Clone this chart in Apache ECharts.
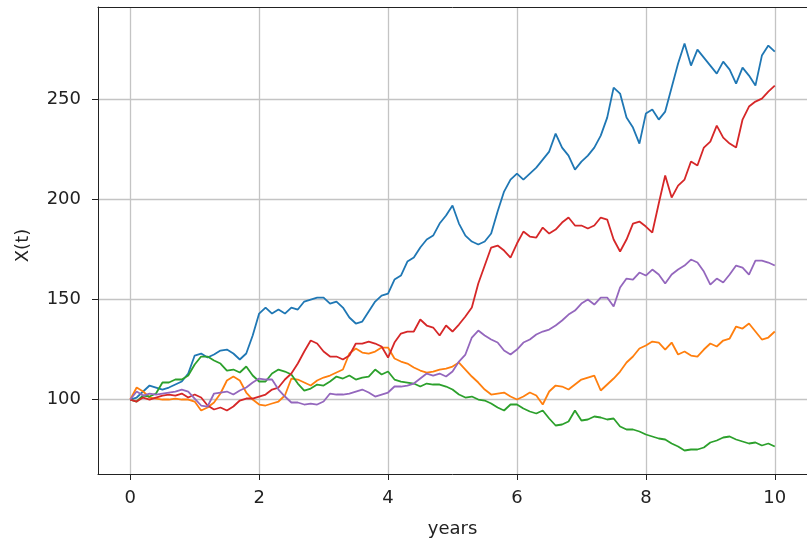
<!DOCTYPE html>
<html>
<head>
<meta charset="utf-8">
<title>X(t) paths</title>
<script src="https://cdn.jsdelivr.net/npm/echarts@6/dist/echarts.min.js"></script>
<style>
  html, body { margin: 0; padding: 0; background: #ffffff; }
  #chart { width: 807px; height: 545px; }
</style>
</head>
<body>
<div id="chart"></div>
<script>
// Sample times in years (step 0.1 from 0 to 10)
const years = Array.from({ length: 101 }, (_, i) => +(i * 0.1).toFixed(1));

// Five simulated price paths X(t), one value per sample time
const pathBlue = [
  100, 101, 104, 107, 106, 105, 106, 107.5, 109, 113,
  122, 123, 121, 122.5, 124.5, 125, 123, 120, 123, 132,
  143, 146, 143, 145, 143, 146, 145, 149, 150, 151,
  151, 148, 149, 146, 141, 138, 139, 144, 149, 152,
  153, 160, 162, 169, 171, 176, 180, 182, 188, 192,
  197, 188, 182, 179, 177.5, 179, 183, 194, 204, 210,
  213, 210, 213, 216, 220, 224, 233, 226, 222, 215,
  219, 222, 226, 232, 241, 256, 253, 241, 236, 228,
  243, 245, 240, 244, 256, 268, 278, 267, 275, 271,
  267, 263, 269, 265, 258, 266, 262, 257, 272, 277,
  274
];
const pathOrange = [
  100, 106, 104, 101, 100.5, 100, 100, 100.5, 100, 100,
  99, 94.5, 96, 98.5, 103, 109.5, 111.5, 109.5, 103.5, 100,
  97.5, 97, 98, 99, 102, 110.5, 110, 108.5, 107, 109.5,
  111, 112, 113.5, 115, 123, 125.5, 123.5, 123, 124, 126,
  126, 120.5, 119, 118, 116, 114.5, 113.5, 114, 115, 115.5,
  116.5, 118.5, 115, 111.5, 108.5, 105, 102.5, 103, 103.5, 101.5,
  100, 101.5, 103.5, 102, 97.5, 104, 107, 106.5, 105, 107.5,
  110, 111, 112, 104.5, 107.5, 110.5, 114, 118.5, 121.5, 125.5,
  127, 129, 128.5, 125, 128.5, 122.5, 124, 122, 121.5, 125,
  128, 126.5, 129.5, 130.5, 136.5, 135.5, 138, 134, 130, 131,
  134
];
const pathGreen = [
  100, 99, 102, 101.5, 103, 108.5, 108.5, 110, 110, 112,
  117.5, 121.5, 121.5, 119.5, 118, 114.5, 115, 113.5, 116.5, 112,
  109, 109, 113, 115, 114, 112.5, 108, 104.5, 105.5, 107.5,
  107, 109, 111.5, 110.5, 112, 110, 111, 111.5, 115, 112.5,
  114, 110, 109, 108.5, 108, 106.5, 108, 107.5, 107.5, 106.5,
  105, 102.5, 101, 101.5, 100, 99.5, 98, 96, 94.5, 97.5,
  97.5, 95.5, 94, 93, 94.5, 90.5, 87, 87.5, 89, 94.5,
  89.5, 90, 91.5, 91, 90, 90.5, 86.5, 85, 85, 84,
  82.5, 81.5, 80.5, 80, 78, 76.5, 74.5, 75, 75, 76,
  78.5, 79.5, 81, 81.5, 80, 79, 78, 78.5, 77, 78,
  76.5
];
const pathRed = [
  100, 99, 101, 100, 101, 102, 102.5, 102, 103, 101,
  102.5, 101, 97, 95, 96, 94.5, 96.5, 99.5, 100.5, 100.5,
  101.5, 102.5, 105, 106, 110, 113, 118, 124, 129.5, 128,
  124, 121.5, 121.5, 120, 122, 128, 128, 129, 128, 126.5,
  121, 128.5, 133, 134, 134, 140, 137, 136, 132, 137,
  134, 137.5, 141.5, 146, 158, 167, 176, 177, 174.5, 171,
  178, 184, 181.5, 181, 186, 183, 185, 188.5, 191, 187,
  187, 185.5, 187, 191, 190, 180, 174, 180, 188, 189,
  186.5, 183.5, 198, 212, 201, 207, 210, 219, 217, 226,
  229, 237, 231, 228, 226, 240, 246.5, 249, 250.5, 254,
  257
];
const pathPurple = [
  100, 104, 102, 103, 102.5, 103, 103.5, 104, 105, 104,
  100.5, 97, 96.5, 103, 103.5, 104, 102.5, 104.5, 106, 108.5,
  110.5, 110, 110, 105, 101.5, 98.5, 98.5, 97.5, 98, 97.5,
  99, 103, 102.5, 102.5, 103, 104, 105, 103.5, 101.5, 102.5,
  103.5, 106.5, 106.5, 107, 108, 110.5, 113, 112, 113, 111.5,
  114, 119, 122.5, 131, 134.5, 132, 130, 128.5, 124.5, 122.5,
  125, 128.5, 130, 132.5, 134, 135, 137, 139.5, 142.5, 144.5,
  148, 150, 147.5, 151, 151, 146.5, 156, 160.5, 160, 163.5,
  162, 165, 162.5, 158, 162.5, 165, 167, 170, 168.5, 164,
  157.5, 160.5, 158.5, 162.5, 167, 166, 162.5, 169.5, 169.5, 168.5,
  167
];

const xTickValues = [0, 2, 4, 6, 8, 10];
const yTickValues = [100, 150, 200, 250];

const paths = [
  { values: pathBlue, color: '#1f77b4' },
  { values: pathOrange, color: '#ff7f0e' },
  { values: pathGreen, color: '#2ca02c' },
  { values: pathRed, color: '#d62728' },
  { values: pathPurple, color: '#9467bd' }
];

const FONT = 'DejaVu Sans';
const INK = '#222222';
const GRID_LINE = { color: '#c4c4c4', width: 1.3 };

const chart = echarts.init(document.getElementById('chart'), null, { renderer: 'canvas' });

chart.setOption({
  animation: false,
  backgroundColor: '#ffffff',
  grid: { left: 98, top: 7, width: 720.75, height: 467, containLabel: false },
  xAxis: [
    {
      type: 'value',
      min: -0.5,
      max: 10.5,
      name: 'years',
      nameLocation: 'middle',
      nameGap: 46,
      nameTextStyle: { fontFamily: FONT, fontSize: 18, color: INK },
      axisLine: { show: true, onZero: false, lineStyle: { color: INK, width: 1 } },
      axisTick: { show: true, inside: false, length: 6, customValues: xTickValues, lineStyle: { color: INK, width: 1 } },
      axisLabel: { show: true, customValues: xTickValues, margin: 15, fontFamily: FONT, fontSize: 18, color: INK },
      splitLine: { show: true, showMinLine: true, showMaxLine: true, lineStyle: GRID_LINE }
    },
    {
      type: 'value',
      position: 'top',
      min: -0.5,
      max: 10.5,
      axisLine: { show: true, onZero: false, lineStyle: { color: INK, width: 1 } },
      axisTick: { show: false },
      axisLabel: { show: false },
      splitLine: { show: false }
    }
  ],
  yAxis: {
    type: 'value',
    min: 62.75,
    max: 296.3,
    name: 'X(t)',
    nameLocation: 'middle',
    nameGap: 66,
    nameTextStyle: { fontFamily: FONT, fontSize: 18, color: INK, padding: [0, 10, 0, 0] },
    axisLine: { show: true, onZero: false, lineStyle: { color: INK, width: 1 } },
    axisTick: { show: true, inside: false, length: 6, customValues: yTickValues, lineStyle: { color: INK, width: 1 } },
    axisLabel: { show: true, customValues: yTickValues, margin: 17, fontFamily: FONT, fontSize: 18, color: INK },
    splitLine: { show: true, showMinLine: true, showMaxLine: true, lineStyle: GRID_LINE }
  },
  series: paths.map((p) => ({
    type: 'line',
    xAxisIndex: 0,
    yAxisIndex: 0,
    showSymbol: false,
    symbol: 'none',
    clip: true,
    lineStyle: { color: p.color, width: 1.8 },
    itemStyle: { color: p.color },
    data: years.map((t, i) => [t, p.values[i]])
  }))
});
</script>
</body>
</html>
